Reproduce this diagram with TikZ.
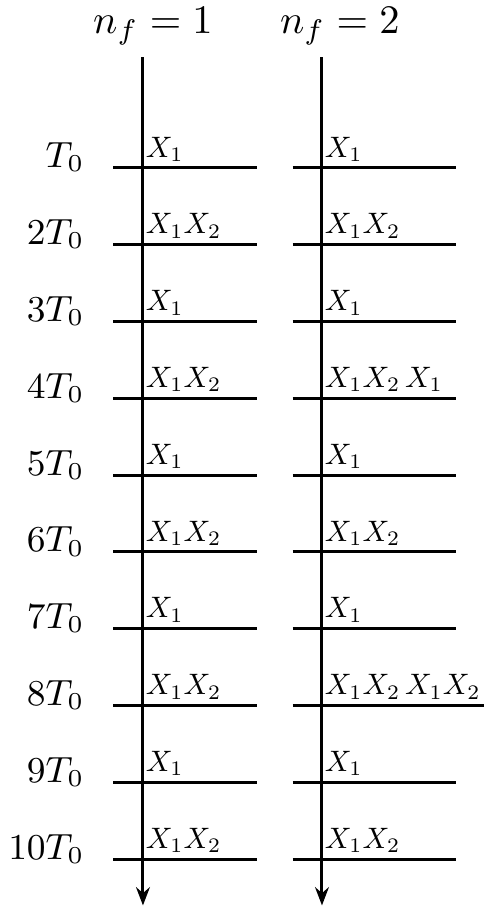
\documentclass[tikz,border=0pt]{standalone}
\usepackage{amsmath,amssymb}
\usepackage{tikz}
\usetikzlibrary{arrows.meta,calc,positioning}
\newcommand{\slotlab}[1]{\scalebox{0.73}{$#1$}}

\begin{document}
\begin{tikzpicture}[>={Stealth[length=4.5pt,width=3.4pt]},
  timeaxis/.style={->,line width=0.75pt},
  slotline/.style={line width=0.75pt},
  tlabel/.style={anchor=base east,inner sep=0pt,font=\fontsize{9}{11}\selectfont},
  xlabel/.style={anchor=base west,inner sep=0.5pt},
  nflabel/.style={anchor=base,inner sep=0pt}]
  \useasboundingbox (0,0) rectangle (4.193,-7.891);
  % columns
  \node[nflabel] (nf1) at (1.328,-0.287) {$n_f=1$};
  \node[nflabel] (nf2) at (2.951,-0.287) {$n_f=2$};
  \coordinate (top1) at (1.241,-0.495);
  \coordinate (bot1) at (1.241,-7.86);
  \coordinate (top2) at (2.795,-0.495);
  \coordinate (bot2) at (2.795,-7.86);
  \draw[timeaxis] (top1) -- (bot1);
  \draw[timeaxis] (top2) -- (bot2);
  % time slots
  \foreach \k/\t/\a/\b in {1/T_0/X_1/X_1,
                           2/2T_0/X_1X_2/X_1X_2,
                           3/3T_0/X_1/X_1,
                           4/4T_0/X_1X_2/X_1X_2\,X_1,
                           5/5T_0/X_1/X_1,
                           6/6T_0/X_1X_2/X_1X_2,
                           7/7T_0/X_1/X_1,
                           8/8T_0/X_1X_2/X_1X_2\,X_1X_2,
                           9/9T_0/X_1/X_1,
                           10/10T_0/X_1X_2/X_1X_2} {
    \coordinate (r\k) at (0,{-1.458-(\k-1)*0.6667});
    \node[tlabel] (t\k) at ($(r\k)+(0.74,0)$) {$\t$};
    \node[xlabel] (a\k) at ($(r\k -| top1)+(0,0.095)$) {\slotlab{\a}};
    \node[xlabel] (b\k) at ($(r\k -| top2)+(0,0.095)$) {\slotlab{\b}};
    \draw[slotline] ($(r\k)+(0.981,0)$) -- ($(r\k)+(2.231,0)$);
    \draw[slotline] ($(r\k)+(2.543,0)$) -- ($(r\k)+(3.958,0)$);
    \draw[slotline] ($(r\k)+(2.543,0)$) -- (r\k -| b\k.east);
  }
\end{tikzpicture}
\end{document}
